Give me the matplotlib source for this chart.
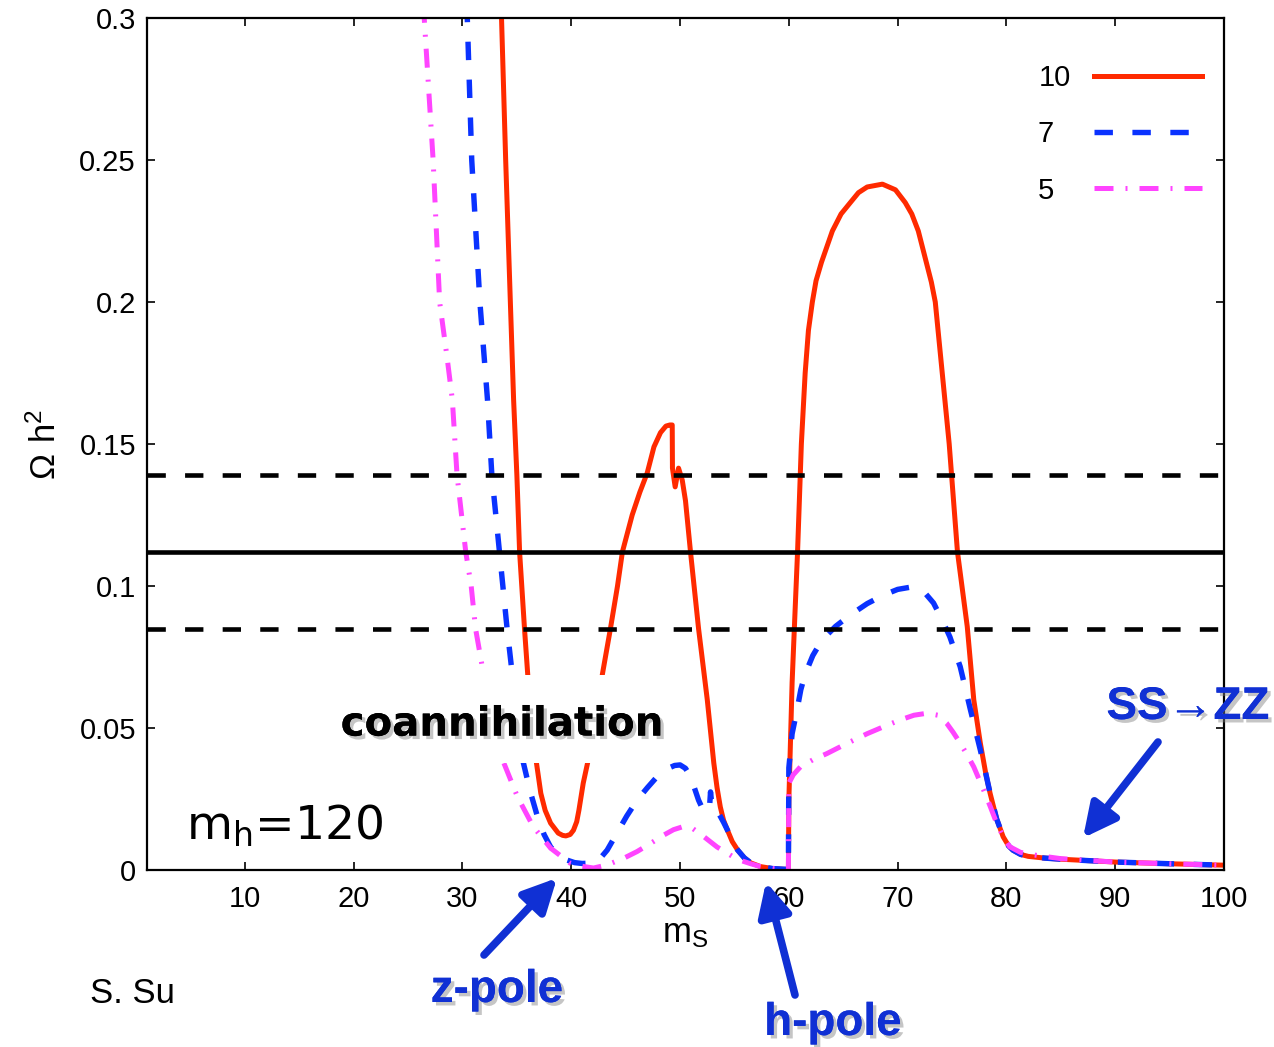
import matplotlib
matplotlib.use("Agg")
import matplotlib.pyplot as plt
import matplotlib.patheffects as pe
from matplotlib.patches import Rectangle

plt.rcParams['font.family'] = ['Liberation Sans', 'DejaVu Sans']

# m_S values and Omega h^2 for lambda = 10, 7, 5
x_10 = [33.55, 33.97, 34.4, 34.7, 35.0, 35.25, 35.7, 36.0, 36.8, 37.2, 37.6, 38.1, 38.8,
        39.2, 39.5, 39.9, 40.2, 40.5, 40.7, 41.1, 41.5, 42.85, 43.6, 44.25, 44.7, 45.6,
        46.3, 46.98, 47.6, 48.2, 48.7, 49.06, 49.28, 49.3, 49.55, 49.86, 50.2, 50.5, 50.96,
        51.7, 52.5, 53.1, 53.4, 53.7, 54.0, 54.35, 54.8, 55.3, 55.9, 56.5, 57.4, 58.5,
        59.9, 59.96, 60.0, 60.3, 60.55, 60.8, 61.15, 61.5, 61.8, 62.16, 62.5, 63.0, 64.0,
        64.8, 65.65, 66.4, 67.2, 68.6, 69.8, 70.7, 71.3, 71.9, 72.7, 73.1, 73.46, 74.1,
        74.74, 75.5, 76.4, 77.0, 77.6, 78.1, 78.5, 79.1, 79.7, 80.2, 80.6, 81.3, 82.0,
        83.5, 85.0, 90.0, 95.0, 100.0]
y_10 = [0.305, 0.25, 0.2, 0.1655, 0.139, 0.112, 0.085, 0.0687, 0.0377, 0.027, 0.021,
        0.0165, 0.013, 0.0122, 0.012, 0.0125, 0.014, 0.017, 0.021, 0.0306, 0.0377, 0.0687,
        0.085, 0.1, 0.112, 0.125, 0.133, 0.1398, 0.149, 0.154, 0.1563, 0.1567, 0.1567,
        0.1415, 0.1349, 0.1415, 0.1373, 0.130, 0.112, 0.085, 0.06, 0.0377, 0.029, 0.0222,
        0.0175, 0.0141, 0.010, 0.007, 0.0043, 0.0025, 0.0012, 0.0005, 0.0002, 0.0, 0.0246,
        0.066, 0.0892, 0.112, 0.15, 0.175, 0.19, 0.2, 0.2075, 0.214, 0.225, 0.231, 0.235,
        0.2385, 0.2405, 0.2415, 0.2395, 0.235, 0.231, 0.225, 0.213, 0.207, 0.2, 0.175,
        0.15, 0.112, 0.0857, 0.0599, 0.0447, 0.034, 0.027, 0.018, 0.0117, 0.0085, 0.007,
        0.0055, 0.0048, 0.0042, 0.0038, 0.0028, 0.0022, 0.0017]

x_7 = [30.4, 30.85, 31.6, 32.3, 32.7, 33.4, 34.1, 34.5, 35.0, 35.6, 36.2, 36.9, 37.5, 38.1,
       38.8, 39.6, 40.3, 41.0, 41.7, 42.4, 43.3, 44.2, 45.1, 46.05, 47.0, 47.9, 48.9, 49.5,
       50.0, 50.5, 50.96, 51.4, 51.7, 52.2, 52.7, 52.8, 52.95, 53.4, 54.0, 54.35, 54.8,
       55.3, 55.9, 56.5, 57.4, 58.5, 59.9, 59.96, 60.0, 60.3, 60.75, 61.1, 61.5, 62.2, 63.05,
       64.3, 65.65, 67.2, 68.7, 70.0, 71.2, 72.3, 73.3, 74.1, 74.8, 75.75, 76.7, 77.6,
       78.1, 78.5, 79.1, 79.7, 80.2, 80.6, 81.3, 82.0, 83.5, 85.0, 90.0, 95.0, 100.0]
y_7 = [0.305, 0.25, 0.2, 0.1655, 0.139, 0.112, 0.085, 0.0715, 0.055, 0.0377, 0.028, 0.0187,
       0.0125, 0.0081, 0.0052, 0.0035, 0.0026, 0.0023, 0.0024, 0.0029, 0.007, 0.013,
       0.019, 0.0246, 0.029, 0.0329, 0.0358, 0.0368, 0.037, 0.0358, 0.0329, 0.028, 0.0246,
       0.0204, 0.0215, 0.0275, 0.022, 0.021, 0.0168, 0.0141, 0.010, 0.007, 0.0043, 0.0025,
       0.0012, 0.0005, 0.0002, 0.0, 0.036, 0.048, 0.0563, 0.0635, 0.069, 0.0755, 0.081,
       0.0858, 0.0898, 0.0938, 0.0968, 0.0988, 0.0996, 0.0985, 0.094, 0.088, 0.0821,
       0.0716, 0.0563, 0.0423, 0.034, 0.027, 0.018, 0.0117, 0.0085, 0.007, 0.0055, 0.0048,
       0.0042, 0.0038, 0.0028, 0.0022, 0.0017]

x_5 = [26.4, 27.3, 27.9, 28.6, 29.07, 29.5, 30.3, 30.8, 31.2, 31.95, 32.8, 33.8, 35.05,
       36.5, 38.1, 39.9, 41.0, 42.05, 43.3, 44.8, 46.05, 47.3, 48.5, 49.4, 50.3, 51.2,
       52.2, 53.4, 54.9, 55.7, 56.5, 57.4, 58.5, 59.9, 59.96, 60.0, 60.4, 61.06, 62.2,
       63.5, 65.3, 67.2, 68.8, 70.2, 71.5, 72.7, 73.7, 74.5, 75.1, 75.75, 76.4, 77.0,
       77.9, 78.5, 79.1, 79.7, 80.3, 81.3, 82.5, 85.0, 90.0, 95.0, 100.0]
y_5 = [0.305, 0.25, 0.2, 0.18, 0.1655, 0.139, 0.112, 0.1, 0.085, 0.0687, 0.052, 0.0377,
       0.0258, 0.0153, 0.0077, 0.0024, 0.0013, 0.0007, 0.0018, 0.0041, 0.0065, 0.0094,
       0.0123, 0.0142, 0.0153, 0.0145, 0.0117, 0.0081, 0.0046, 0.0032, 0.0022, 0.0012,
       0.0005, 0.0002, 0.0, 0.0305, 0.0335, 0.0363, 0.0388, 0.041, 0.0445, 0.048, 0.0506,
       0.0528, 0.0545, 0.0552, 0.0545, 0.0517, 0.0485, 0.0447, 0.0405, 0.0363, 0.0282,
       0.0225, 0.0165, 0.0118, 0.0082, 0.0062, 0.0053, 0.004, 0.0028, 0.0022, 0.0017]

# WMAP band: central value and 2-sigma limits
band_center = 0.112
band_limits = [0.085, 0.139]

fig = plt.figure(figsize=(12.74, 10.47), dpi=100)
ax = fig.add_axes([147/1274, 1-870/1047, 1077/1274, 852/1047])

ax.plot(x_10, y_10, color='#ff2a00', lw=3.6, label='10', zorder=2)
ax.plot(x_7, y_7, color='#0a32ff', lw=3.9, ls=(0, (3.4, 3.6)), label='7  ', zorder=2.1)
ax.plot(x_5, y_5, color='#ff44ff', lw=3.6, ls=(0, (3.8, 2.4, 0.4, 2.4)), label='5  ',
        zorder=2.2)

ax.axhline(band_center, color='black', lw=3.3, zorder=3)
for yb in band_limits:
    ax.axhline(yb, color='black', lw=3.3, ls=(0, (4.0, 4.2)), zorder=3)

ax.set_xlim(1, 100)
ax.set_ylim(0, 0.3)
ax.set_xticks(range(10, 101, 10))
ax.set_yticks([0, 0.05, 0.1, 0.15, 0.2, 0.25, 0.3])
ax.set_yticklabels(['0', '0.05', '0.1', '0.15', '0.2', '0.25', '0.3'])
ax.tick_params(direction='in', length=6, width=1.2, top=True, right=True,
               labelsize=21, pad=8)
ax.tick_params(axis='x', pad=11)
for s in ax.spines.values():
    s.set_linewidth(1.6)

ax.set_xlabel(r'$\mathregular{m_S}$', fontsize=25, labelpad=3)
ax.set_ylabel(r'$\mathregular{\Omega\ h^2}$', fontsize=25, labelpad=12)

leg = ax.legend(loc='upper right', bbox_to_anchor=(1202/1274, 1-64/1047),
                bbox_transform=fig.transFigure, frameon=False, markerfirst=False,
                fontsize=21, handlelength=3.7, handletextpad=0.8, labelspacing=0.97,
                borderpad=0, borderaxespad=0)

# white box behind the coannihilation label
ax.add_patch(Rectangle((20, 0.0377), 28.5, 0.031, facecolor='white', edgecolor='none',
                       zorder=4))
shadow = [pe.withSimplePatchShadow(offset=(2.5, -2.5), shadow_rgbFace='gray', alpha=0.45),
          pe.Normal()]
ax.text(33.6, 0.0512, 'coannihilation', fontsize=29, fontweight='bold',
        family='DejaVu Sans', ha='center', va='center', zorder=5, path_effects=shadow)

ax.text(4.6, 0.0106, r'$\mathregular{m_h}$=120', fontsize=34, family='DejaVu Sans',
        ha='left', va='baseline', zorder=5)

fig.text(90/1274, 1-1003/1047, 'S. Su', fontsize=25, ha='left', va='baseline')

blue = '#1030d4'
fig.text(497/1274, 1-990/1047, 'z-pole', fontsize=33, fontweight='bold', color=blue,
         ha='center', va='center', path_effects=shadow)
fig.text(833/1274, 1-1023/1047, 'h-pole', fontsize=33, fontweight='bold', color=blue,
         ha='center', va='center', path_effects=shadow)
fig.text(1188/1274, 1-707/1047, 'SS\u2192ZZ', fontsize=33, fontweight='bold', color=blue,
         ha='center', va='center', path_effects=shadow)

arrows = [((557, 878), (484, 955)), ((766, 882), (795, 995)), ((1083, 838), (1158, 742))]
for tip, tail in arrows:
    ax.annotate('', xy=(tip[0]/1274, 1-tip[1]/1047), xytext=(tail[0]/1274, 1-tail[1]/1047),
                xycoords='figure fraction', textcoords='figure fraction',
                arrowprops=dict(arrowstyle='-|>,head_length=0.4,head_width=0.2',
                                mutation_scale=50, lw=5.5, color=blue,
                                shrinkA=0, shrinkB=0),
                annotation_clip=False, zorder=6)

fig.savefig('out.png', dpi=100)
